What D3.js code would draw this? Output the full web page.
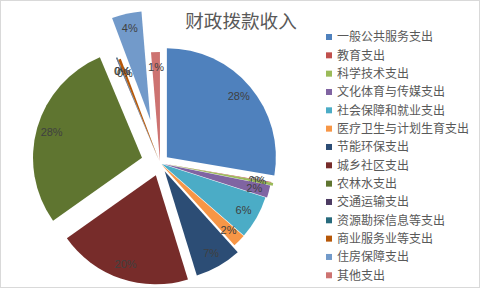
<!DOCTYPE html>
<html>
<head>
  <meta charset="utf-8">
  <title>财政拨款收入</title>
  <script src="https://d3js.org/d3.v7.min.js"></script>
  <style>
    body { margin: 0; background: #fff; }
  </style>
</head>
<body>
  <div id="chart"></div>

  <script>
    // categories in legend / slice order (clockwise from 12 o'clock)
    var categories = ['一般公共服务支出', '教育支出', '科学技术支出', '文化体育与传媒支出',
      '社会保障和就业支出', '医疗卫生与计划生育支出', '节能环保支出', '城乡社区支出',
      '农林水支出', '交通运输支出', '资源勘探信息等支出', '商业服务业等支出',
      '住房保障支出', '其他支出'];
    // share of total
    var values = [27.6, 0.1, 0.4, 1.8, 6.4, 1.9, 6.9, 19.9, 28.4, 0.1, 0.1, 0.4, 4.4, 1.3];
    var colors = ['#4F81BD', '#C0504D', '#9BBB59', '#8064A2', '#4BACC6', '#F79646', '#2C4D75',
      '#772C2A', '#5F7530', '#4D3B62', '#276A7C', '#B65708', '#729ACA', '#CD7371'];
    // how far each slice is pulled out of the pie (px)
    var explode = [9, 4, 6, 3.5, 2, 2, 9.5, 13, 18.7, 5, 5, 2.5, 44, 2];

    var width = 482, height = 290;
    var cx = 160, cy = 163, radius = 109;

    var svg = d3.select('#chart').append('svg')
      .attr('width', width)
      .attr('height', height);

    // chart border
    svg.append('rect')
      .attr('x', 0.5).attr('y', 0.5)
      .attr('width', 479).attr('height', 287)
      .attr('fill', '#fff')
      .attr('stroke', '#d9d9d9');

    svg.append('text')
      .attr('x', 241)
      .attr('y', 28)
      .attr('text-anchor', 'middle')
      .attr('font-family', '"Noto Sans CJK SC", sans-serif')
      .attr('font-size', '18.6px')
      .attr('fill', '#595959')
      .text('财政拨款收入');

    var total = d3.sum(values);
    var pie = d3.pie().sort(null).value(function(d) { return d; });
    var arcs = pie(values);

    var arc = d3.arc().innerRadius(0).outerRadius(radius);
    var labelArc = d3.arc().innerRadius(94).outerRadius(94);

    function offset(d, i) {
      var m = (d.startAngle + d.endAngle) / 2;
      return [explode[i] * Math.sin(m), -explode[i] * Math.cos(m)];
    }

    var pieG = svg.append('g')
      .attr('transform', 'translate(' + cx + ',' + cy + ')');

    var slices = pieG.selectAll('.slice')
      .data(arcs)
      .enter()
      .append('g')
      .attr('class', 'slice')
      .attr('transform', function(d, i) {
        var o = offset(d, i);
        return 'translate(' + o[0] + ',' + o[1] + ')';
      });

    slices.append('path')
      .attr('d', arc)
      .attr('fill', function(d, i) { return colors[i]; });

    slices.append('text')
      .attr('transform', function(d) { return 'translate(' + labelArc.centroid(d) + ')'; })
      .attr('text-anchor', 'middle')
      .attr('dy', '0.35em')
      .attr('font-family', '"Liberation Sans", Arial, sans-serif')
      .attr('font-size', '11px')
      .attr('fill', '#404040')
      .text(function(d) { return Math.round(d.value / total * 100) + '%'; });

    // legend
    var legend = svg.append('g')
      .attr('transform', 'translate(326,37)');

    var items = legend.selectAll('.item')
      .data(categories)
      .enter()
      .append('g')
      .attr('class', 'item')
      .attr('transform', function(d, i) { return 'translate(0,' + (i * 18.33) + ')'; });

    items.append('rect')
      .attr('x', 0).attr('y', -3)
      .attr('width', 6).attr('height', 6)
      .attr('fill', function(d, i) { return colors[i]; });

    items.append('text')
      .attr('x', 11)
      .attr('dy', '0.36em')
      .attr('font-family', '"Noto Sans CJK SC", sans-serif')
      .attr('font-size', '12px')
      .attr('fill', '#595959')
      .text(function(d) { return d; });
  </script>
</body>
</html>
